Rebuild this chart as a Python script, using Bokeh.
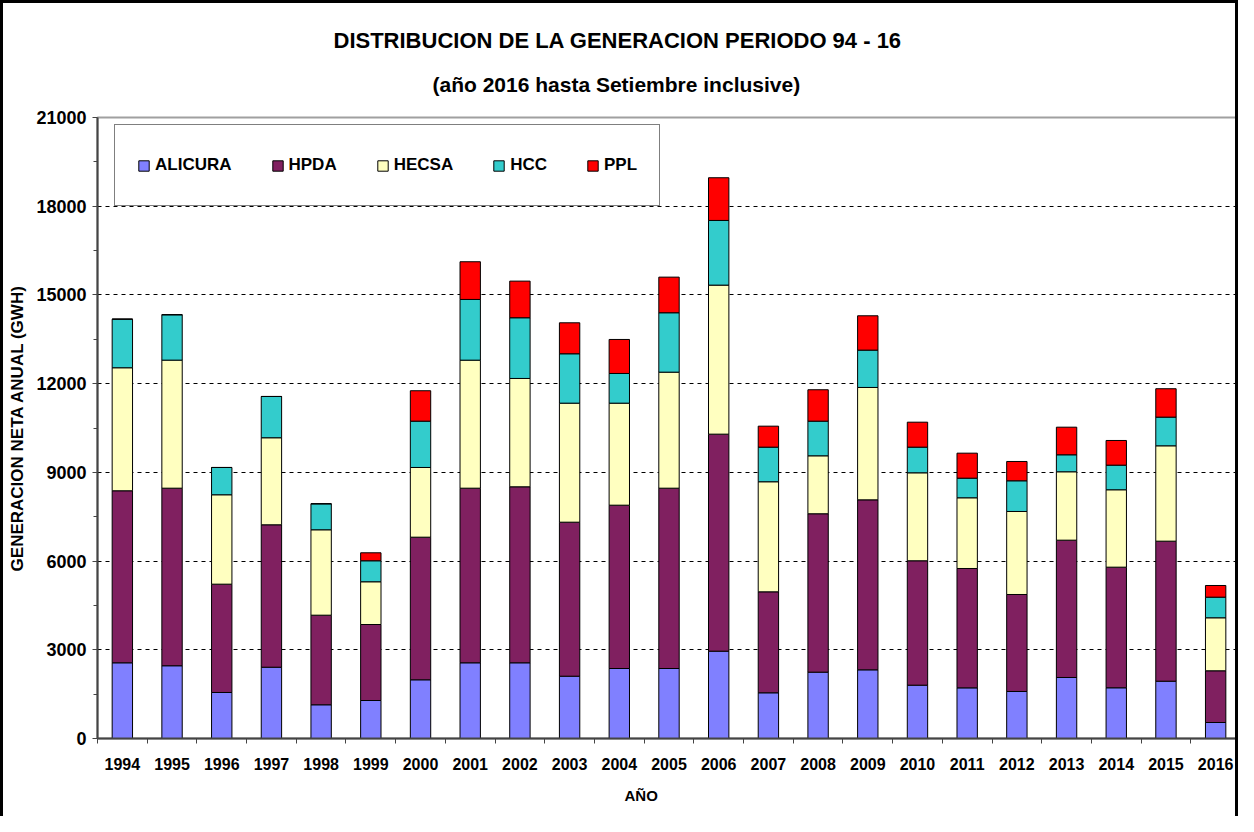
from bokeh.plotting import figure
from bokeh.models import ColumnDataSource, Range1d, FixedTicker, Title, Legend
from bokeh.embed import file_html
from bokeh.resources import INLINE

years = ["1994", "1995", "1996", "1997", "1998", "1999", "2000", "2001", "2002", "2003", "2004", "2005",
         "2006", "2007", "2008", "2009", "2010", "2011", "2012", "2013", "2014", "2015", "2016"]
alicura = [2560, 2460, 1556, 2411, 1140, 1285, 1985, 2560, 2560, 2107, 2367, 2367,
           2953, 1545, 2243, 2322, 1803, 1713, 1590, 2063, 1715, 1938, 541]
hpda = [5817, 6005, 3663, 4816, 3030, 2570, 4823, 5905, 5952, 5208, 5523, 6098,
        7339, 3415, 5357, 5749, 4207, 4036, 3280, 4644, 4079, 4735, 1749]
hecsa = [4160, 4330, 3023, 2943, 2888, 1445, 2357, 4329, 3663, 4025, 3450, 3923,
         5040, 3722, 1960, 3800, 2975, 2391, 2807, 2313, 2617, 3225, 1792]
hcc = [1644, 1535, 923, 1396, 879, 710, 1566, 2053, 2053, 1670, 1004, 2009,
       2187, 1170, 1171, 1262, 867, 663, 1038, 574, 832, 969, 697]
ppl = [0, 0, 0, 0, 0, 270, 1029, 1275, 1239, 1048, 1150, 1205,
       1444, 710, 1063, 1162, 845, 846, 653, 934, 835, 961, 395]

series = ["ALICURA", "HPDA", "HECSA", "HCC", "PPL"]
colors = ["#8080FF", "#802060", "#FFFFC0", "#33CCCC", "#FF0000"]
y_ticks = [0, 3000, 6000, 9000, 12000, 15000, 18000, 21000]

FONT = "Liberation Sans"

x = list(range(len(years)))
source = ColumnDataSource(dict(x=x, ALICURA=alicura, HPDA=hpda, HECSA=hecsa, HCC=hcc, PPL=ppl))

p = figure(width=1238, height=816, output_backend="svg", toolbar_location=None,
           x_range=Range1d(-0.5, len(years) - 0.5), y_range=Range1d(0, 21000),
           min_border_left=94, min_border_right=1, min_border_top=114, min_border_bottom=81)
p.styles = {"border-left": "3px solid black", "border-top": "3px solid black",
            "border-right": "3px solid black"}

renderers = p.vbar_stack(series, x="x", width=0.41, color=colors, source=source,
                         line_color="black", line_width=1)

legend = Legend(items=[(name, [r]) for name, r in zip(series, renderers)],
                orientation="horizontal", location=(17, 532),
                glyph_width=13, glyph_height=13, label_standoff=5, spacing=39,
                padding=22, label_height=36,
                label_text_font=FONT, label_text_font_style="bold", label_text_font_size="17px",
                label_text_color="black",
                border_line_color="black", border_line_width=1, background_fill_alpha=1.0)
p.add_layout(legend, "center")

# titles
sub = Title(text="(año 2016 hasta Setiembre inclusive)", align="left", offset=335,
            vertical_align="top",
            text_font=FONT, text_font_style="bold", text_font_size="21px", standoff=40,
            text_color="black")
main = Title(text="DISTRIBUCION DE LA GENERACION PERIODO 94 - 16", align="left", offset=236,
             text_font=FONT, text_font_style="bold", text_font_size="22px", standoff=0,
             text_color="black")
p.add_layout(sub, "above")
p.add_layout(main, "above")

# x axis
p.xaxis.ticker = FixedTicker(ticks=x, minor_ticks=[i - 0.5 for i in range(len(years) + 1)])
p.xaxis.major_label_overrides = {i: y for i, y in enumerate(years)}
p.xaxis.major_tick_out = 0
p.xaxis.major_tick_in = 0
p.xaxis.minor_tick_out = 5
p.xaxis.minor_tick_in = 0
p.xaxis.major_label_standoff = 14
p.xaxis.major_label_text_font = FONT
p.xaxis.major_label_text_font_style = "bold"
p.xaxis.major_label_text_font_size = "16px"
p.xaxis.major_label_text_color = "black"
p.xaxis.axis_line_color = "#444444"
p.xaxis.axis_line_width = 2
p.xaxis.minor_tick_line_color = "#444444"

xt = Title(text="AÑO", align="left", offset=527, text_font=FONT, text_font_style="bold",
           text_font_size="15px", standoff=25, text_color="black")
p.add_layout(xt, "below")

# y axis
p.yaxis.ticker = FixedTicker(ticks=y_ticks, minor_ticks=[t + 1500 for t in y_ticks[:-1]])
p.yaxis.major_tick_out = 5
p.yaxis.major_tick_in = 0
p.yaxis.minor_tick_out = 4
p.yaxis.minor_tick_in = 0
p.yaxis.major_label_standoff = 6
p.yaxis.major_label_text_font = FONT
p.yaxis.major_label_text_font_style = "bold"
p.yaxis.major_label_text_font_size = "18px"
p.yaxis.major_label_text_color = "black"
p.yaxis.axis_line_color = "#444444"
p.yaxis.axis_line_width = 2
p.yaxis.major_tick_line_color = "#444444"
p.yaxis.minor_tick_line_color = "#444444"
p.yaxis.axis_label = "GENERACION NETA ANUAL (GWH)"
p.yaxis.axis_label_text_font = FONT
p.yaxis.axis_label_text_font_style = "bold"
p.yaxis.axis_label_text_font_size = "17px"
p.yaxis.axis_label_text_color = "black"
p.yaxis.axis_label_standoff = 6

# grid
p.xgrid.visible = False
p.ygrid.ticker = FixedTicker(ticks=y_ticks[1:-1])
p.ygrid.grid_line_color = "black"
p.ygrid.grid_line_dash = "4 4"
p.ygrid.grid_line_width = 1

p.outline_line_color = "#a0a0a0"
p.outline_line_width = 2
p.background_fill_color = "white"
p.border_fill_color = "white"

open("out.html", "w").write(file_html(p, INLINE))
